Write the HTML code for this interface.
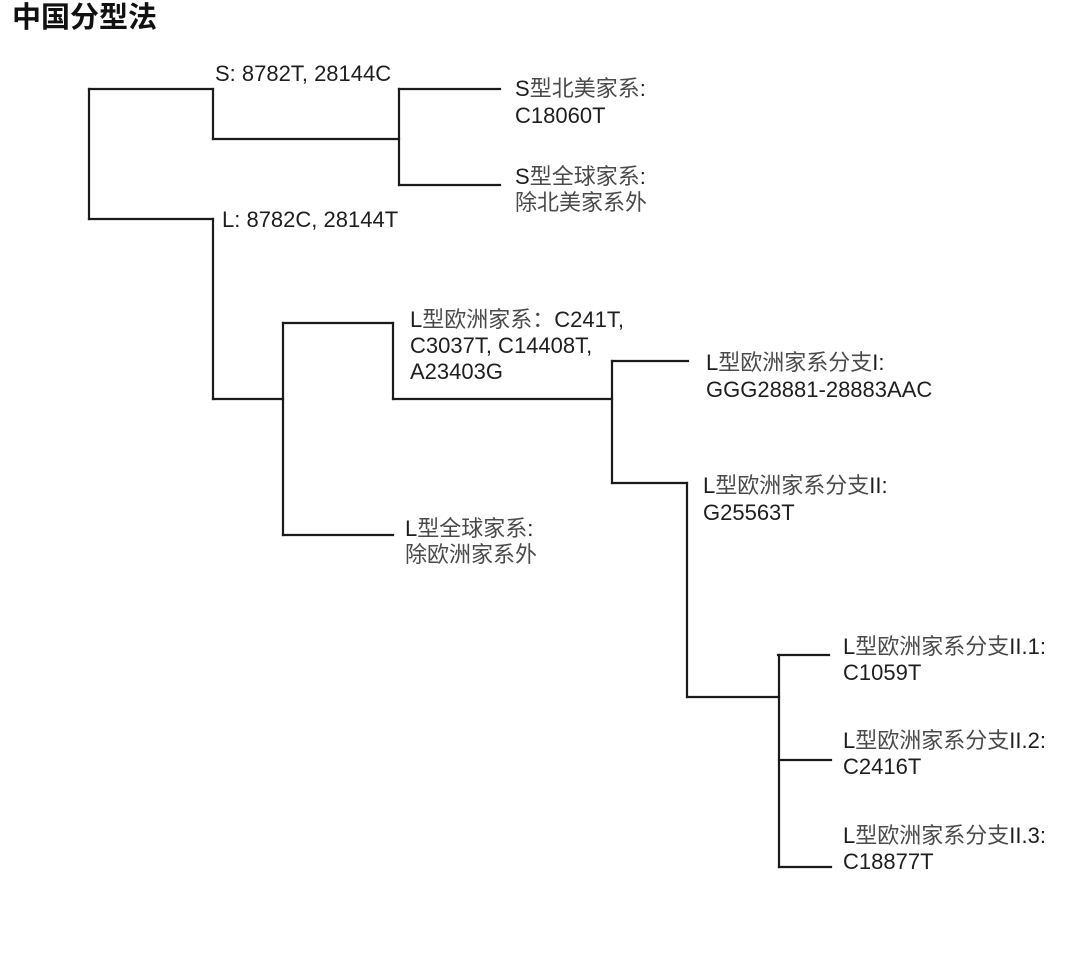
<!DOCTYPE html>
<html>
<head>
<meta charset="utf-8">
<style>
  html, body { margin:0; padding:0; background:#fff; }
  body { width:1080px; height:958px; overflow:hidden; }
  svg { display:block; }
  text { font-family: "Liberation Sans", "Noto Sans CJK SC", sans-serif; font-size:22px; fill:#1e1e1e; }
  .cj { fill:#4a4a4a; }
  .title { font-size:29px; font-weight:bold; fill:#111; }
</style>
</head>
<body>
<svg width="1080" height="958" viewBox="0 0 1080 958" xmlns="http://www.w3.org/2000/svg">
  <text class="title" x="12" y="27">中国分型法</text>

  <g stroke="#1a1a1a" stroke-width="2.2" fill="none" stroke-linecap="square">
    <!-- root -->
    <line x1="89" y1="89" x2="89" y2="219"/>
    <!-- S branch -->
    <line x1="89" y1="89" x2="213" y2="89"/>
    <line x1="213" y1="89" x2="213" y2="139"/>
    <line x1="213" y1="139" x2="399" y2="139"/>
    <line x1="399" y1="89" x2="399" y2="185"/>
    <line x1="399" y1="89" x2="500" y2="89"/>
    <line x1="399" y1="185" x2="500" y2="185"/>
    <!-- L branch -->
    <line x1="89" y1="219" x2="213" y2="219"/>
    <line x1="213" y1="219" x2="213" y2="399"/>
    <line x1="213" y1="399" x2="283" y2="399"/>
    <line x1="283" y1="323" x2="283" y2="535"/>
    <line x1="283" y1="323" x2="393" y2="323"/>
    <line x1="393" y1="323" x2="393" y2="399"/>
    <line x1="283" y1="535" x2="393" y2="535"/>
    <line x1="393" y1="399" x2="612" y2="399"/>
    <!-- Europe split -->
    <line x1="612" y1="361" x2="612" y2="483"/>
    <line x1="612" y1="361" x2="688" y2="361"/>
    <line x1="612" y1="483" x2="687" y2="483"/>
    <line x1="687" y1="483" x2="687" y2="697"/>
    <line x1="687" y1="697" x2="779" y2="697"/>
    <line x1="779" y1="655" x2="779" y2="867"/>
    <line x1="778" y1="655" x2="829" y2="655"/>
    <line x1="779" y1="760" x2="831" y2="760"/>
    <line x1="779" y1="867" x2="831" y2="867"/>
  </g>

  <text x="215" y="81">S: 8782T, 28144C</text>
  <text x="222" y="227">L: 8782C, 28144T</text>

  <text x="515" y="96">S<tspan class="cj">型北美家系</tspan>:</text>
  <text x="515" y="123">C18060T</text>

  <text x="515" y="184">S<tspan class="cj">型全球家系</tspan>:</text>
  <text x="515" y="210" class="cj">除北美家系外</text>

  <text x="410" y="327">L<tspan class="cj">型欧洲家系：</tspan>C241T,</text>
  <text x="410" y="353">C3037T, C14408T,</text>
  <text x="410" y="379">A23403G</text>

  <text x="405" y="536">L<tspan class="cj">型全球家系</tspan>:</text>
  <text x="405" y="562" class="cj">除欧洲家系外</text>

  <text x="706" y="370">L<tspan class="cj">型欧洲家系分支</tspan>I:</text>
  <text x="706" y="397">GGG28881-28883AAC</text>

  <text x="703" y="493">L<tspan class="cj">型欧洲家系分支</tspan>II:</text>
  <text x="703" y="520">G25563T</text>

  <text x="843" y="654">L<tspan class="cj">型欧洲家系分支</tspan>II.1:</text>
  <text x="843" y="680">C1059T</text>

  <text x="843" y="748">L<tspan class="cj">型欧洲家系分支</tspan>II.2:</text>
  <text x="843" y="774">C2416T</text>

  <text x="843" y="843">L<tspan class="cj">型欧洲家系分支</tspan>II.3:</text>
  <text x="843" y="869">C18877T</text>
</svg>
</body>
</html>
